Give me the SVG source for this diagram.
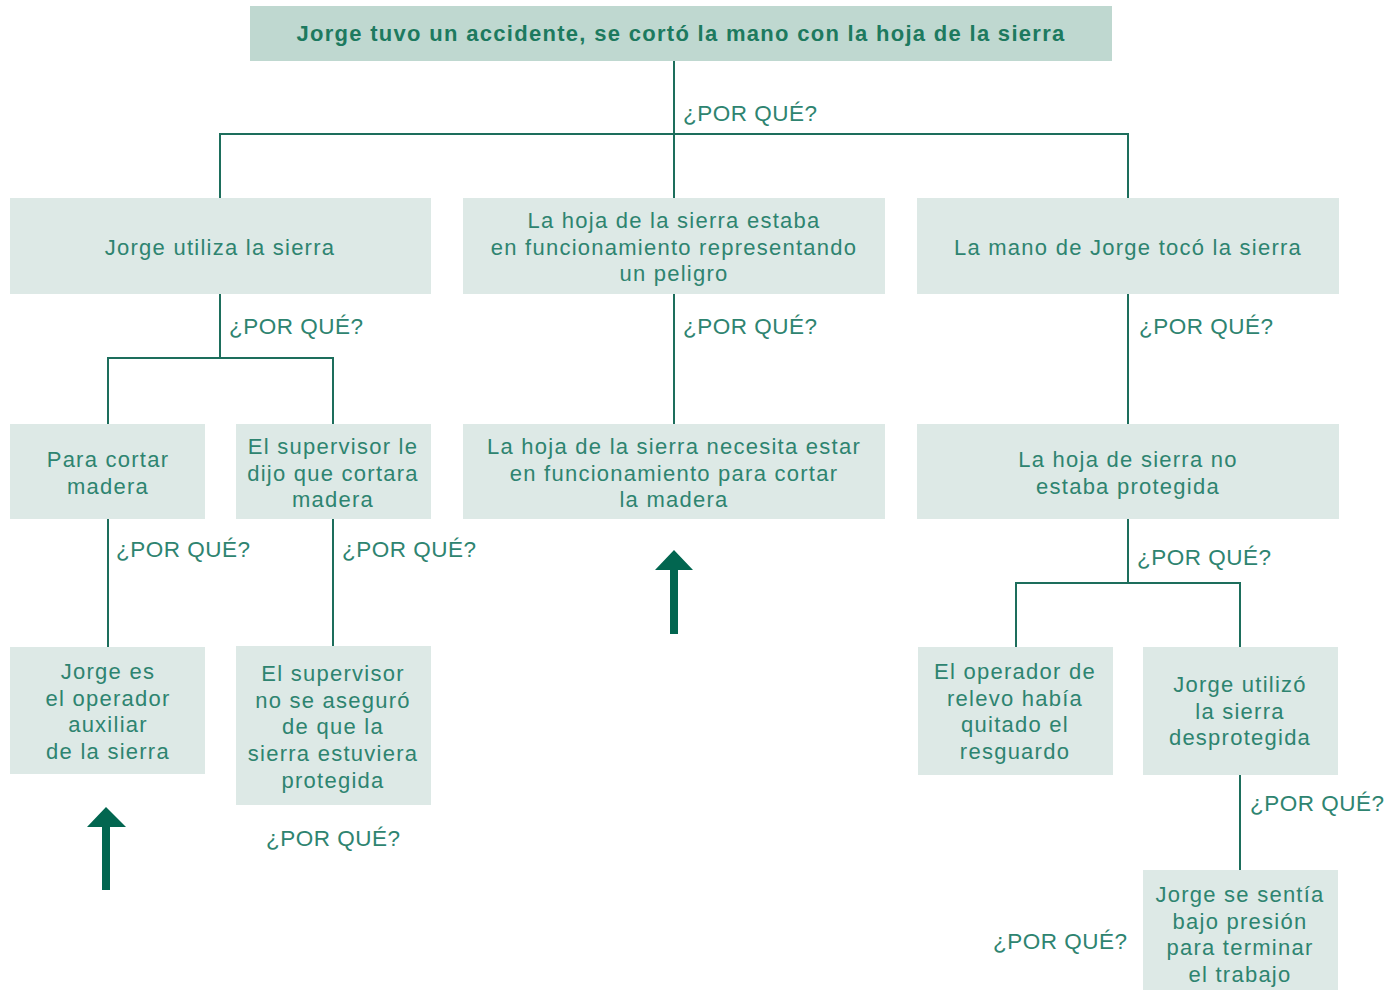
<svg xmlns="http://www.w3.org/2000/svg" width="1400" height="990" viewBox="0 0 1400 990">
<style>
.box{fill:#dde9e6}
.top{fill:#bfd8d0}
.t{font-family:"Liberation Sans",Arial,sans-serif;font-size:22px;letter-spacing:1.25px;fill:#2e8470;text-anchor:middle}
.tb{font-family:"Liberation Sans",Arial,sans-serif;font-size:22px;letter-spacing:1.3px;font-weight:bold;fill:#1d7a5f;text-anchor:middle}
.q{font-family:"Liberation Sans",Arial,sans-serif;font-size:22.5px;letter-spacing:0.5px;fill:#2e8470}
.ln{fill:none;stroke:#1d6e5c;stroke-width:2}
.arr{fill:#026650}
</style>
<rect width="1400" height="990" fill="#ffffff"/>
<g id="connectors">
<path class="ln" d="M674 61V198M220 198V134H1128V198"/>
<path class="ln" d="M220 294V358M108 424V358H333V424"/>
<path class="ln" d="M674 294V424"/>
<path class="ln" d="M1128 294V424"/>
<path class="ln" d="M108 519V647"/>
<path class="ln" d="M333 519V646"/>
<path class="ln" d="M1128 519V583M1016 647V583H1240V647"/>
<path class="ln" d="M1240 775V870"/>
</g>
<g id="labels">
<text class="q" x="683" y="121">¿POR QUÉ?</text>
<text class="q" x="229" y="334">¿POR QUÉ?</text>
<text class="q" x="683" y="334">¿POR QUÉ?</text>
<text class="q" x="1139" y="334">¿POR QUÉ?</text>
<text class="q" x="116" y="557">¿POR QUÉ?</text>
<text class="q" x="342" y="557">¿POR QUÉ?</text>
<text class="q" x="1137" y="565">¿POR QUÉ?</text>
<text class="q" x="1250" y="811">¿POR QUÉ?</text>
<text class="q" x="266" y="846">¿POR QUÉ?</text>
<text class="q" x="993" y="949">¿POR QUÉ?</text>
</g>
<g id="n0"><rect class="top" x="250" y="6" width="862" height="55"/><text class="tb" x="681" y="41">Jorge tuvo un accidente, se cortó la mano con la hoja de la sierra</text></g>
<g id="n1"><rect class="box" x="10" y="198" width="421" height="96"/><text class="t" x="220" y="255">Jorge utiliza la sierra</text></g>
<g id="n2"><rect class="box" x="463" y="198" width="422" height="96"/><text class="t" y="228"><tspan x="674">La hoja de la sierra estaba</tspan><tspan x="674" dy="26.5">en funcionamiento representando</tspan><tspan x="674" dy="26.5">un peligro</tspan></text></g>
<g id="n3"><rect class="box" x="917" y="198" width="422" height="96"/><text class="t" x="1128" y="255">La mano de Jorge tocó la sierra</text></g>
<g id="n4"><rect class="box" x="10" y="424" width="195" height="95"/><text class="t" y="467"><tspan x="108">Para cortar</tspan><tspan x="108" dy="26.5">madera</tspan></text></g>
<g id="n5"><rect class="box" x="236" y="424" width="195" height="95"/><text class="t" y="454"><tspan x="333">El supervisor le</tspan><tspan x="333" dy="26.5">dijo que cortara</tspan><tspan x="333" dy="26.5">madera</tspan></text></g>
<g id="n6"><rect class="box" x="463" y="424" width="422" height="95"/><text class="t" y="454"><tspan x="674">La hoja de la sierra necesita estar</tspan><tspan x="674" dy="26.5">en funcionamiento para cortar</tspan><tspan x="674" dy="26.5">la madera</tspan></text></g>
<g id="n7"><rect class="box" x="917" y="424" width="422" height="95"/><text class="t" y="467"><tspan x="1128">La hoja de sierra no</tspan><tspan x="1128" dy="26.5">estaba protegida</tspan></text></g>
<g id="n8"><rect class="box" x="10" y="647" width="195" height="127"/><text class="t" y="679"><tspan x="108">Jorge es</tspan><tspan x="108" dy="26.5">el operador</tspan><tspan x="108" dy="26.5">auxiliar</tspan><tspan x="108" dy="26.5">de la sierra</tspan></text></g>
<g id="n9"><rect class="box" x="236" y="646" width="195" height="159"/><text class="t" y="681"><tspan x="333">El supervisor</tspan><tspan x="333" dy="26.7">no se aseguró</tspan><tspan x="333" dy="26.7">de que la</tspan><tspan x="333" dy="26.7">sierra estuviera</tspan><tspan x="333" dy="26.7">protegida</tspan></text></g>
<g id="n10"><rect class="box" x="918" y="647" width="195" height="128"/><text class="t" y="679"><tspan x="1015">El operador de</tspan><tspan x="1015" dy="26.5">relevo había</tspan><tspan x="1015" dy="26.5">quitado el</tspan><tspan x="1015" dy="26.5">resguardo</tspan></text></g>
<g id="n11"><rect class="box" x="1143" y="647" width="195" height="128"/><text class="t" y="692"><tspan x="1240">Jorge utilizó</tspan><tspan x="1240" dy="26.7">la sierra</tspan><tspan x="1240" dy="26.7">desprotegida</tspan></text></g>
<g id="n12"><rect class="box" x="1143" y="870" width="195" height="120"/><text class="t" y="902"><tspan x="1240">Jorge se sentía</tspan><tspan x="1240" dy="26.7">bajo presión</tspan><tspan x="1240" dy="26.7">para terminar</tspan><tspan x="1240" dy="26.7">el trabajo</tspan></text></g>
<g id="arrows">
<polygon class="arr" points="106,807 126,827 110,827 110,890 102,890 102,827 87,827"/>
<polygon class="arr" points="674,550 693,570 678,570 678,634 670,634 670,570 655,570"/>
</g>
</svg>
